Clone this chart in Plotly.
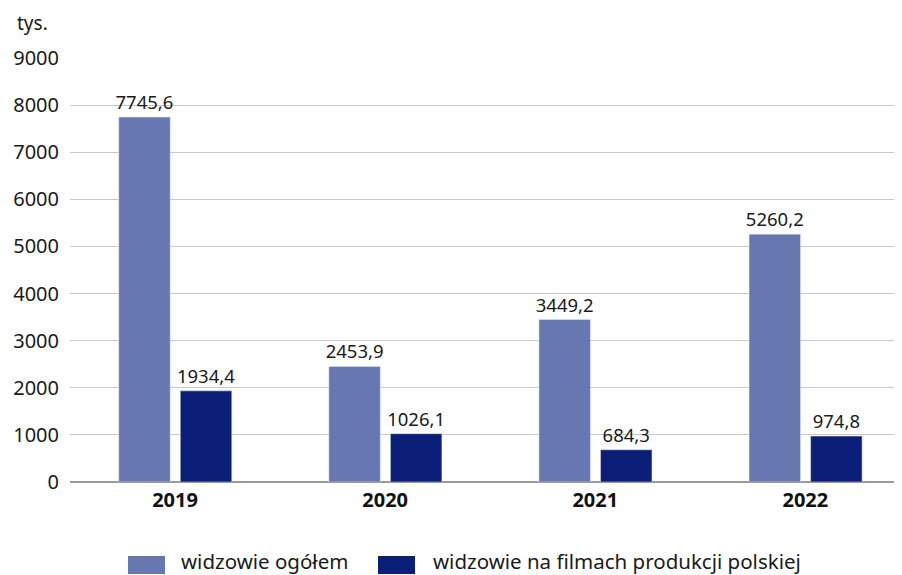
import plotly.graph_objects as go

years = ["2019", "2020", "2021", "2022"]
total = [7745.6, 2453.9, 3449.2, 5260.2]
polish = [1934.4, 1026.1, 684.3, 974.8]
tick_vals = [0, 1000, 2000, 3000, 4000, 5000, 6000, 7000, 8000, 9000]
legend_names = ["widzowie ogółem", "widzowie na filmach produkcji polskiej"]

c_total = "#6777b0"
c_polish = "#0b1f78"
FONT = "Noto Sans"

def fmt(v):
    return f"{v:.1f}".replace(".", ",")

xs = list(range(len(years)))

fig = go.Figure()
fig.add_trace(go.Bar(x=xs, y=total, name=legend_names[0], marker_color=c_total,
                     width=0.245, offset=-0.268,
                     text=[fmt(v) for v in total], textposition="outside",
                     constraintext="none",
                     textfont=dict(size=18.5, color="#1a1a1a", family=FONT),
                     cliponaxis=False, showlegend=False))
fig.add_trace(go.Bar(x=xs, y=polish, name=legend_names[1], marker_color=c_polish,
                     width=0.245, offset=0.025,
                     text=[fmt(v) for v in polish], textposition="outside",
                     constraintext="none",
                     textfont=dict(size=18.5, color="#1a1a1a", family=FONT),
                     cliponaxis=False, showlegend=False))

# page body has an 8px default margin, so the figure is sized/offset to compensate
fig.update_layout(
    width=894, height=567,
    margin=dict(l=62, r=0, t=50, b=93, autoexpand=False),
    plot_bgcolor="white", paper_bgcolor="white",
    font=dict(family=FONT, size=18, color="#1a1a1a"),
    barmode="overlay",
    xaxis=dict(tickvals=xs, ticktext=years, range=[-0.5, 3.46],
               tickfont=dict(size=20, family=FONT, color="#111", weight="bold"),
               showgrid=False, zeroline=False, showline=False, ticks="", ticklabelstandoff=4),
    yaxis=dict(range=[0, 9000], tickvals=tick_vals, ticktext=[str(v) for v in tick_vals],
               showgrid=True, gridcolor="#c8c8c8", gridwidth=1,
               zeroline=True, zerolinecolor="#9a9a9a", zerolinewidth=1.5,
               ticks="", ticklabelstandoff=10, tickfont=dict(size=20, family=FONT)),
)

fig.add_annotation(text="tys.", xref="paper", yref="paper", x=-0.0445, y=1.083,
                   xanchor="center", yanchor="middle", showarrow=False, borderpad=0,
                   font=dict(size=19, family=FONT))

# manual legend
legend_boxes = [(0.0697, 0.1142), (0.3702, 0.4147)]
text_x = [0.1322, 0.4351]
colors = [c_total, c_polish]
for (x0, x1), tx, col, name in zip(legend_boxes, text_x, colors, legend_names):
    fig.add_shape(type="rect", xref="paper", yref="paper", x0=x0, x1=x1, y0=-0.217, y1=-0.1745,
                  fillcolor=col, line_width=0)
    fig.add_annotation(text=name, xref="paper", yref="paper", x=tx, y=-0.187,
                       xanchor="left", yanchor="middle", showarrow=False, borderpad=0,
                       font=dict(size=20.5, family=FONT))

fig.write_html("out.html")
